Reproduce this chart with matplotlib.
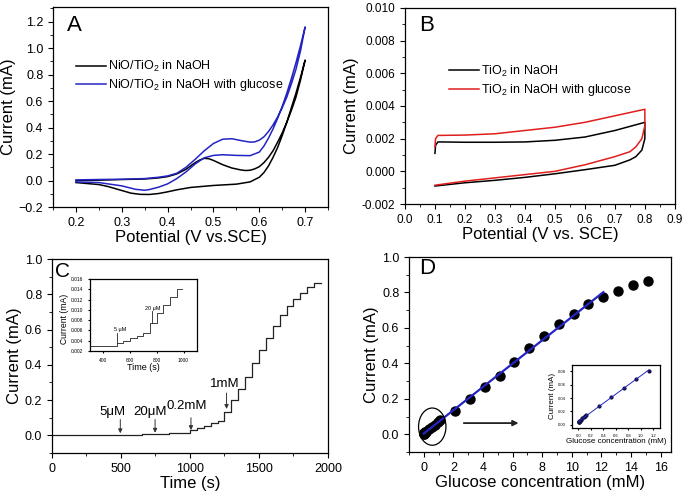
import matplotlib
matplotlib.use("Agg")
import matplotlib.pyplot as plt
from matplotlib.patches import Ellipse
from matplotlib.ticker import MultipleLocator, FormatStrFormatter
import numpy as np

plt.rcParams['font.family'] = ['Liberation Sans', 'DejaVu Sans']
plt.rcParams['mathtext.default'] = 'regular'

# ---- panel A : CV of NiO/TiO2 ----
a_fwd_v = [0.20, 0.25, 0.30, 0.35, 0.38, 0.40, 0.42, 0.44, 0.46, 0.47, 0.48, 0.49, 0.50, 0.52,
           0.54, 0.56, 0.57, 0.58, 0.59, 0.60, 0.61, 0.62, 0.63, 0.64, 0.65, 0.66, 0.67, 0.68, 0.69, 0.70]
a_blk_fwd = [0.0, 0.003, 0.008, 0.012, 0.02, 0.03, 0.05, 0.085, 0.135, 0.155, 0.168, 0.165, 0.152, 0.12,
             0.095, 0.08, 0.076, 0.078, 0.088, 0.105, 0.135, 0.175, 0.225, 0.29, 0.36, 0.44, 0.53, 0.63, 0.76, 0.91]
a_rev_v = [0.70, 0.69, 0.68, 0.67, 0.66, 0.65, 0.64, 0.63, 0.62, 0.61, 0.60, 0.58, 0.55, 0.50,
           0.45, 0.42, 0.40, 0.38, 0.36, 0.34, 0.32, 0.30, 0.27, 0.25, 0.20]
a_blk_rev = [0.91, 0.78, 0.66, 0.55, 0.44, 0.34, 0.25, 0.175, 0.11, 0.06, 0.025, -0.01, -0.027, -0.037,
             -0.052, -0.07, -0.085, -0.098, -0.105, -0.104, -0.095, -0.075, -0.045, -0.03, -0.015]

a_gl_fwd_v = [0.20, 0.25, 0.30, 0.35, 0.38, 0.40, 0.42, 0.44, 0.46, 0.48, 0.50, 0.52, 0.54, 0.56,
              0.58, 0.59, 0.60, 0.61, 0.62, 0.63, 0.64, 0.65, 0.66, 0.67, 0.68, 0.69, 0.70]
a_gl_fwd = [0.005, 0.008, 0.01, 0.015, 0.025, 0.035, 0.055, 0.1, 0.16, 0.225, 0.28, 0.312, 0.316, 0.302,
            0.29, 0.292, 0.305, 0.33, 0.37, 0.42, 0.48, 0.55, 0.63, 0.73, 0.84, 0.98, 1.16]
a_gl_rev_v = [0.70, 0.69, 0.68, 0.67, 0.66, 0.65, 0.64, 0.63, 0.62, 0.61, 0.60, 0.58, 0.55, 0.52,
              0.50, 0.48, 0.46, 0.44, 0.42, 0.40, 0.38, 0.36, 0.35, 0.33, 0.30, 0.25, 0.20]
a_gl_rev = [1.16, 1.02, 0.89, 0.77, 0.66, 0.56, 0.47, 0.39, 0.32, 0.26, 0.215, 0.188, 0.19, 0.195,
            0.19, 0.172, 0.125, 0.065, 0.015, -0.025, -0.05, -0.068, -0.073, -0.066, -0.04, -0.015, -0.01]

# ---- panel B : CV of TiO2 ----
b_fwd_v = [0.100, 0.102, 0.11, 0.12, 0.2, 0.3, 0.4, 0.5, 0.6, 0.7, 0.75, 0.8]
b_blk_fwd = [0.0011, 0.0016, 0.0018, 0.0018, 0.00178, 0.00178, 0.0018, 0.0019, 0.0021, 0.0025, 0.00275, 0.0030]
b_red_fwd = [0.0015, 0.0020, 0.0022, 0.0022, 0.00222, 0.0023, 0.0025, 0.0027, 0.0030, 0.0034, 0.0036, 0.0038]
b_rev_v = [0.8, 0.8, 0.79, 0.77, 0.75, 0.7, 0.6, 0.5, 0.4, 0.3, 0.2, 0.1]
b_blk_rev = [0.0030, 0.0020, 0.0013, 0.0009, 0.0007, 0.00037, 0.0001, -0.00015, -0.00037, -0.00055, -0.0007, -0.0009]
b_red_rev = [0.0038, 0.0028, 0.0020, 0.0015, 0.0012, 0.0009, 0.0004, 0.0, -0.0002, -0.0004, -0.0006, -0.00085]

# ---- panel C : amperometric response ----
c_times = [0, 500, 550, 600, 650, 700, 750, 800, 850, 900, 950,
           1000, 1050, 1100, 1150, 1200, 1250, 1300, 1350, 1400, 1450,
           1500, 1550, 1600, 1650, 1700, 1750, 1800, 1850, 1900]
c_levels = [0.003, 0.0035, 0.004, 0.0045, 0.005, 0.0055, 0.0075, 0.0093, 0.011, 0.0125, 0.014,
            0.028, 0.042, 0.055, 0.068, 0.081, 0.13, 0.20, 0.265, 0.33, 0.41,
            0.485, 0.555, 0.62, 0.68, 0.735, 0.775, 0.81, 0.84, 0.865]
c_end = 1950
c_inset_end = 990

# ---- panel D : calibration ----
d_conc = [0.005, 0.01, 0.015, 0.02, 0.025, 0.045, 0.065, 0.085, 0.105, 0.125,
          0.325, 0.525, 0.725, 0.925, 1.125, 2.125, 3.125, 4.125, 5.125, 6.125,
          7.125, 8.125, 9.125, 10.125, 11.125, 12.125, 13.125, 14.125, 15.125]
d_curr = c_levels[1:]
d_lin_max = 12.125
d_inset_max = 1.125

blue = '#2424c4'
red = '#e01e1e'

fig = plt.figure(figsize=(6.85, 4.93), dpi=100)
axA = fig.add_axes([0.0774, 0.580, 0.4015, 0.4057])
axB = fig.add_axes([0.5912, 0.5862, 0.394, 0.3976])
axC = fig.add_axes([0.0759, 0.0811, 0.4029, 0.3935])
axD = fig.add_axes([0.5971, 0.0832, 0.3825, 0.3955])


def style(ax, size=9, major=3.5, minor=2):
    ax.tick_params(which='both', direction='out', top=False, right=False, labelsize=size)
    ax.tick_params(which='major', length=major, width=0.8)
    ax.tick_params(which='minor', length=minor, width=0.6)
    for s in ax.spines.values():
        s.set_linewidth(0.9)


# A
axA.plot(a_fwd_v + a_rev_v, a_blk_fwd + a_blk_rev, color='black', lw=1.1, label='NiO/TiO$_2$ in NaOH')
axA.plot(a_gl_fwd_v + a_gl_rev_v, a_gl_fwd + a_gl_rev, color=blue, lw=1.1,
         label='NiO/TiO$_2$ in NaOH with glucose')
axA.set_xlim(0.15, 0.75)
axA.set_ylim(-0.2, 1.31)
axA.xaxis.set_major_locator(MultipleLocator(0.1))
axA.xaxis.set_minor_locator(MultipleLocator(0.05))
axA.yaxis.set_major_locator(MultipleLocator(0.2))
axA.yaxis.set_minor_locator(MultipleLocator(0.1))
axA.set_xlabel('Potential (V vs.SCE)', fontsize=12, labelpad=1)
axA.set_ylabel('Current (mA)', fontsize=12, labelpad=2)
style(axA)
axA.legend(loc='upper left', bbox_to_anchor=(0.084, 0.74), frameon=False, fontsize=9,
           handlelength=2.4, handletextpad=0.15, labelspacing=0.25, borderpad=0, borderaxespad=0)
axA.text(0.078, 0.91, 'A', transform=axA.transAxes, fontsize=16, ha='center', va='center')

# B
axB.plot(b_fwd_v + b_rev_v, b_blk_fwd + b_blk_rev, color='black', lw=1.1, label='TiO$_2$ in NaOH')
axB.plot(b_fwd_v + b_rev_v, b_red_fwd + b_red_rev, color=red, lw=1.1, label='TiO$_2$ in NaOH with glucose')
axB.set_xlim(0.0, 0.9)
axB.set_ylim(-0.002, 0.010)
axB.xaxis.set_major_locator(MultipleLocator(0.1))
axB.xaxis.set_minor_locator(MultipleLocator(0.05))
axB.yaxis.set_major_locator(MultipleLocator(0.002))
axB.yaxis.set_minor_locator(MultipleLocator(0.001))
axB.yaxis.set_major_formatter(FormatStrFormatter('%.3f'))
axB.xaxis.set_major_formatter(FormatStrFormatter('%.1f'))
axB.set_xlabel('Potential (V vs. SCE)', fontsize=12, labelpad=1)
axB.set_ylabel('Current (mA)', fontsize=12, labelpad=2)
style(axB, size=8.5)
axB.legend(loc='upper left', bbox_to_anchor=(0.163, 0.715), frameon=False, fontsize=9,
           handlelength=2.4, handletextpad=0.15, labelspacing=0.25, borderpad=0, borderaxespad=0)
axB.text(0.08, 0.91, 'B', transform=axB.transAxes, fontsize=16, ha='center', va='center')

# C
axC.step(c_times + [c_end], c_levels + [c_levels[-1]], where='post', color='#222222', lw=0.9)
axC.set_xlim(0, 2000)
axC.set_ylim(-0.1, 1.0)
axC.xaxis.set_major_locator(MultipleLocator(500))
axC.xaxis.set_minor_locator(MultipleLocator(250))
axC.yaxis.set_major_locator(MultipleLocator(0.2))
axC.yaxis.set_minor_locator(MultipleLocator(0.1))
axC.yaxis.set_major_formatter(FormatStrFormatter('%.1f'))
axC.set_xlabel('Time (s)', fontsize=12, labelpad=1)
axC.set_ylabel('Current (mA)', fontsize=12, labelpad=2)
style(axC)
arw = dict(arrowstyle='-|>', color='#333333', lw=0.7, mutation_scale=6, shrinkA=0, shrinkB=0)
axC.text(438, 0.13, '5μM', fontsize=9.5, ha='center', va='center')
axC.annotate('', xy=(495, 0.012), xytext=(495, 0.09), arrowprops=arw)
axC.text(710, 0.13, '20μM', fontsize=9.5, ha='center', va='center')
axC.annotate('', xy=(747, 0.015), xytext=(747, 0.09), arrowprops=arw)
axC.text(975, 0.165, '0.2mM', fontsize=9.5, ha='center', va='center')
axC.annotate('', xy=(1007, 0.03), xytext=(1007, 0.10), arrowprops=arw)
axC.text(1253, 0.29, '1mM', fontsize=9.5, ha='center', va='center')
axC.annotate('', xy=(1265, 0.15), xytext=(1265, 0.24), arrowprops=arw)
axC.text(0.038, 0.935, 'C', transform=axC.transAxes, fontsize=15, ha='center', va='center')

# C inset
axCi = fig.add_axes([0.1314, 0.288, 0.156, 0.146])
ti = [t for t in c_times if t <= c_inset_end]
li = c_levels[:len(ti)]
axCi.step(ti + [c_inset_end], li + [li[-1]], where='post', color='#222222', lw=0.6)
axCi.set_xlim(300, 1100)
axCi.set_ylim(0.002, 0.016)
axCi.xaxis.set_major_locator(MultipleLocator(200))
axCi.yaxis.set_major_locator(MultipleLocator(0.002))
axCi.yaxis.set_major_formatter(FormatStrFormatter('%.3f'))
axCi.set_xlabel('Time (s)', fontsize=6.5, labelpad=0)
axCi.set_ylabel('Current (mA)', fontsize=6.2, labelpad=1)
axCi.yaxis.set_label_coords(-0.2, 0.44)
style(axCi, size=3.5, major=1.5, minor=1)
axCi.text(527, 0.0062, '5 μM', fontsize=4, ha='center', va='center')
axCi.plot([505, 505], [0.0055, 0.0035], color='#222222', lw=0.6)
axCi.text(772, 0.0103, '20 μM', fontsize=4, ha='center', va='center')
axCi.plot([762, 762], [0.0097, 0.0075], color='#222222', lw=0.6)

# D
conc = np.array(d_conc)
curr = np.array(d_curr)
sel = conc <= d_lin_max
k, b0 = np.polyfit(conc[sel], curr[sel], 1)
axD.plot(conc, curr, 'o', color='black', ms=6.5, zorder=2)
xl = np.array([0, d_lin_max])
axD.plot(xl, k * xl + b0, color=blue, lw=1.6, zorder=3)
axD.set_xlim(-1, 16.7)
axD.set_ylim(-0.1, 1.0)
axD.xaxis.set_major_locator(MultipleLocator(2))
axD.xaxis.set_minor_locator(MultipleLocator(1))
axD.yaxis.set_major_locator(MultipleLocator(0.2))
axD.yaxis.set_minor_locator(MultipleLocator(0.1))
axD.yaxis.set_major_formatter(FormatStrFormatter('%.1f'))
axD.set_xlabel('Glucose concentration (mM)', fontsize=12, labelpad=1)
axD.set_ylabel('Current (mA)', fontsize=12, labelpad=2)
style(axD)
axD.add_patch(Ellipse((0.57, 0.043), 1.85, 0.21, fill=False, edgecolor='black', lw=0.9, zorder=4))
axD.annotate('', xy=(6.4, 0.063), xytext=(2.7, 0.063),
             arrowprops=dict(arrowstyle='-|>', color='#222222', lw=1.3, mutation_scale=8,
                             shrinkA=0, shrinkB=0))
axD.text(0.07, 0.94, 'D', transform=axD.transAxes, fontsize=16, ha='center', va='center')

# D inset
axDi = fig.add_axes([0.835, 0.132, 0.128, 0.128])
seli = conc <= d_inset_max
ki, bi = np.polyfit(conc[seli], curr[seli], 1)
axDi.plot(conc[seli], curr[seli], 'o', color='#101040', ms=2, zorder=2)
xi = np.array([0, d_inset_max])
axDi.plot(xi, ki * xi + bi, color=blue, lw=0.7, zorder=3)
axDi.set_xlim(-0.1, 1.3)
axDi.set_ylim(-0.005, 0.09)
axDi.xaxis.set_major_locator(MultipleLocator(0.2))
axDi.yaxis.set_major_locator(MultipleLocator(0.02))
axDi.yaxis.set_major_formatter(FormatStrFormatter('%.2f'))
axDi.xaxis.set_major_formatter(FormatStrFormatter('%.1f'))
axDi.set_xlabel('Glucose concentration (mM)', fontsize=5.8, labelpad=0)
axDi.set_ylabel('Current (mA)', fontsize=5.8, labelpad=1)
style(axDi, size=3, major=1.2, minor=0.8)

fig.savefig('out.png', dpi=100)
